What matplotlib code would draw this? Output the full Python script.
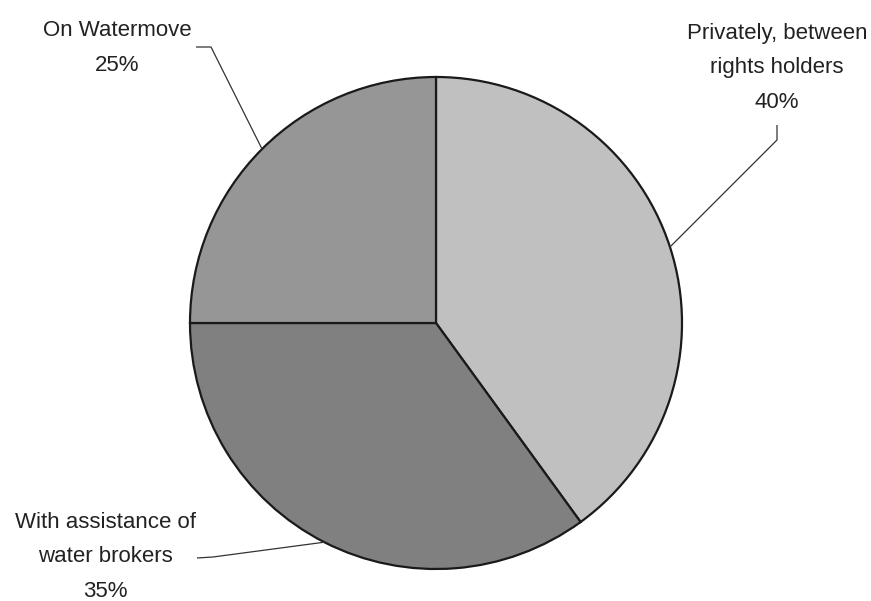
import numpy as np
import matplotlib
matplotlib.use("Agg")
import matplotlib.pyplot as plt
from matplotlib import font_manager

labels = ["Privately, between\nrights holders", "With assistance of\nwater brokers", "On Watermove"]
values = [40, 35, 25]
colors = ["#c0c0c0", "#808080", "#969696"]

W, H = 871, 601
fams = [f.name for f in font_manager.fontManager.ttflist]
narrow = "Liberation Sans Narrow" in fams
family = "Liberation Sans Narrow" if narrow else "Liberation Sans"
fsize = 18 if narrow else 16

fig = plt.figure(figsize=(W / 100, H / 100), dpi=100)
ax = fig.add_axes([0, 0, 1, 1])

cx, cy, r = 436, H - 323, 246
wedges, _ = ax.pie(values, colors=colors, startangle=90, counterclock=False,
                   center=(cx, cy), radius=r, frame=True,
                   wedgeprops=dict(edgecolor="#1a1a1a", linewidth=1.6))
ax.set_xlim(0, W)
ax.set_ylim(0, H)
ax.axis("off")

# label text positions (pixels, top-left origin) and leader elbow points
text_pos = [(777, 68), (105, 557), (117, 48)]
elbows = [[(777, 125), (777, 140)], [(197, 558), (213, 557)], [(196, 47), (211, 47)]]

for w, lab, v, tp, el in zip(wedges, labels, values, text_pos, elbows):
    mid = np.deg2rad((w.theta1 + w.theta2) / 2)
    px, py = cx + r * np.cos(mid), cy + r * np.sin(mid)
    xs = [e[0] for e in el] + [px]
    ys = [H - e[1] for e in el] + [py]
    ax.plot(xs, ys, color="#333333", lw=0.9, solid_capstyle="butt")
    ax.text(tp[0], H - tp[1], f"{lab}\n{v}%", ha="center", va="center",
            fontsize=fsize, family=family, color="#222222", linespacing=1.82)

fig.savefig("out.png", dpi=100)
